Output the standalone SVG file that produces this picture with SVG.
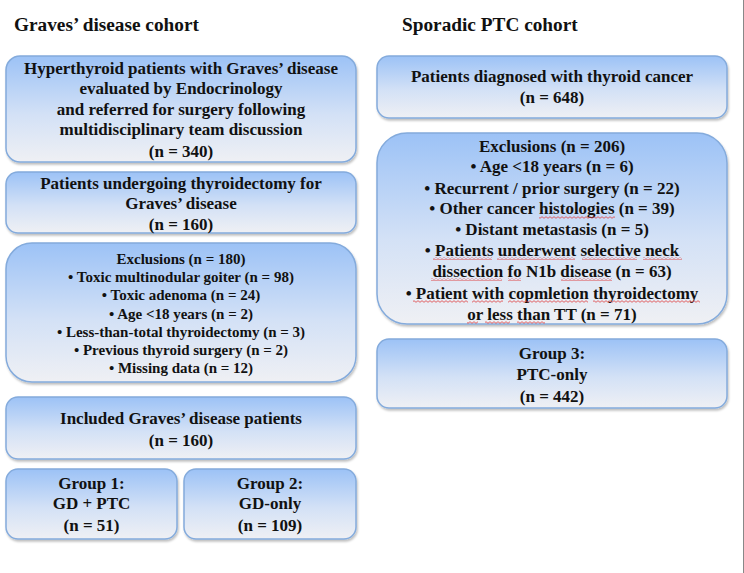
<svg xmlns="http://www.w3.org/2000/svg" width="744" height="573" viewBox="0 0 744 573">
<style>
.t{font-family:"Liberation Serif","Times New Roman",serif;font-weight:bold;fill:#111;text-anchor:middle}
.h{font-family:"Liberation Serif","Times New Roman",serif;font-weight:bold;fill:#111;font-size:19.3px}
.m{font-size:17px}
.s{font-size:15px}
.box{fill:url(#g);stroke:#84abdc;stroke-width:1.5;filter:url(#sh)}
.w{fill:url(#wave)}
</style>
<defs>
<linearGradient id="g" x1="0" y1="0" x2="0" y2="1">
<stop offset="0" stop-color="#9cc2f6"/>
<stop offset="0.55" stop-color="#d3e1f6"/>
<stop offset="1" stop-color="#eff0f4"/>
</linearGradient>
<pattern id="wave" patternUnits="userSpaceOnUse" width="4" height="3">
<path d="M0,2.3 L2,0.7 L4,2.3" fill="none" stroke="#e04040" stroke-width="0.8"/>
</pattern>
<filter id="sh" x="-5%" y="-5%" width="110%" height="115%">
<feDropShadow dx="1" dy="2" stdDeviation="1.2" flood-color="#000" flood-opacity="0.25"/>
</filter>
</defs>
<rect width="744" height="573" fill="#fff"/>
<line x1="743.5" y1="0" x2="743.5" y2="573" stroke="#888" stroke-width="1"/>
<text class="h" x="14" y="31">Graves’ disease cohort</text>
<text class="h" x="402" y="31">Sporadic PTC cohort</text>

<g id="n1">
<rect class="box" x="6" y="56" width="350" height="106" rx="14"/>
<text class="t m" x="181" y="74">Hyperthyroid patients with Graves’ disease</text>
<text class="t m" x="181" y="94">evaluated by Endocrinology</text>
<text class="t m" x="181" y="115">and referred for surgery following</text>
<text class="t m" x="181" y="135">multidisciplinary team discussion</text>
<text class="t m" x="181" y="157">(n = 340)</text>
</g>
<g id="n2">
<rect class="box" x="6" y="172" width="350" height="61" rx="12"/>
<text class="t m" x="181" y="189">Patients undergoing thyroidectomy for</text>
<text class="t m" x="181" y="209">Graves’ disease</text>
<text class="t m" x="181" y="230">(n = 160)</text>
</g>
<g id="n3">
<rect class="box" x="6" y="243" width="350" height="139" rx="26"/>
<text class="t s" x="181" y="264">Exclusions (n = 180)</text>
<text class="t s" x="181" y="282">• Toxic multinodular goiter (n = 98)</text>
<text class="t s" x="181" y="300">• Toxic adenoma (n = 24)</text>
<text class="t s" x="181" y="319">• Age &lt;18 years (n = 2)</text>
<text class="t s" x="181" y="337">• Less-than-total thyroidectomy (n = 3)</text>
<text class="t s" x="181" y="355">• Previous thyroid surgery (n = 2)</text>
<text class="t s" x="181" y="373">• Missing data (n = 12)</text>
</g>
<g id="n4">
<rect class="box" x="6" y="397" width="350" height="62" rx="12"/>
<text class="t m" x="181" y="424">Included Graves’ disease patients</text>
<text class="t m" x="181" y="446">(n = 160)</text>
</g>
<g id="n5">
<rect class="box" x="6" y="469" width="171" height="70" rx="12"/>
<text class="t m" x="91.5" y="489">Group 1:</text>
<text class="t m" x="91.5" y="509">GD + PTC</text>
<text class="t m" x="91.5" y="531">(n = 51)</text>
</g>
<g id="n6">
<rect class="box" x="184" y="469" width="172" height="70" rx="12"/>
<text class="t m" x="270" y="489">Group 2:</text>
<text class="t m" x="270" y="509">GD-only</text>
<text class="t m" x="270" y="531">(n = 109)</text>
</g>

<g id="n7">
<rect class="box" x="377" y="56" width="350" height="62" rx="12"/>
<text class="t m" x="552" y="82">Patients diagnosed with thyroid cancer</text>
<text class="t m" x="552" y="103">(n = 648)</text>
</g>
<g id="n8">
<rect class="box" x="377" y="133" width="350" height="191" rx="30"/>
<text class="t m" x="552" y="152">Exclusions (n = 206)</text>
<text class="t m" x="552" y="172">• Age &lt;18 years (n = 6)</text>
<text class="t m" x="552" y="194">• Recurrent / prior surgery (n = 22)</text>
<text class="t m" x="552" y="214">• Other cancer histologies (n = 39)</text>
<text class="t m" x="552" y="235">• Distant metastasis (n = 5)</text>
<text class="t m" x="552" y="256">• Patients underwent selective neck</text>
<text class="t m" x="552" y="277">dissection fo N1b disease (n = 63)</text>
<text class="t m" x="552" y="299">• Patient with copmletion thyroidectomy</text>
<text class="t m" x="552" y="320">or less than TT (n = 71)</text>
<g id="spell">
<rect class="w" x="539" y="216" width="76" height="3"/>
<rect class="w" x="433" y="257" width="59" height="3"/>
<rect class="w" x="497" y="257" width="78" height="3"/>
<rect class="w" x="582" y="257" width="55" height="3"/>
<rect class="w" x="643" y="257" width="39" height="3"/>
<rect class="w" x="431" y="278" width="71" height="3"/>
<rect class="w" x="508" y="278" width="13" height="3"/>
<rect class="w" x="561" y="278" width="51" height="3"/>
<rect class="w" x="413" y="300" width="55" height="3"/>
<rect class="w" x="472" y="300" width="31" height="3"/>
<rect class="w" x="508" y="300" width="80" height="3"/>
<rect class="w" x="593" y="300" width="107" height="3"/>
<rect class="w" x="467" y="321" width="11" height="3"/>
<rect class="w" x="485" y="321" width="25" height="3"/>
<rect class="w" x="517" y="321" width="28" height="3"/>
</g>
</g>
<g id="n9">
<rect class="box" x="377" y="339" width="350" height="69" rx="12"/>
<text class="t m" x="552" y="359">Group 3:</text>
<text class="t m" x="552" y="380">PTC-only</text>
<text class="t m" x="552" y="402">(n = 442)</text>
</g>
<g id="connectors"/>
</svg>
